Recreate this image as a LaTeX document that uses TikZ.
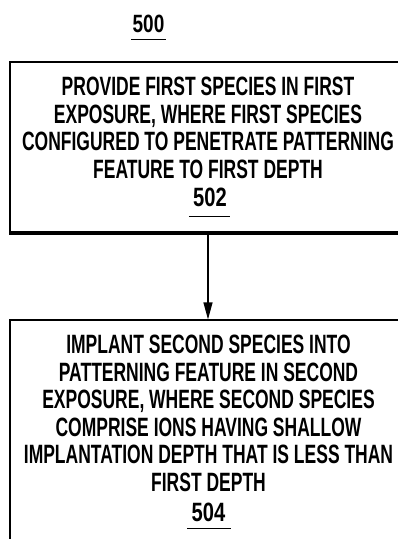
\documentclass[tikz,border=0pt]{standalone}
\usepackage{fontspec}
\newfontfamily\pfont{Liberation Sans}[FakeStretch=0.66]
\newfontfamily\nfont{Liberation Sans}[FakeStretch=0.76]
\usetikzlibrary{arrows.meta}
\begin{document}
\begin{tikzpicture}[x=1pt,y=-1pt,
  box/.style={draw, line width=1.2pt, minimum width=400pt, inner sep=0pt},
  bodytext/.style={font=\pfont\bfseries\fontsize{26.5}{27.5}\selectfont, align=center, inner sep=0pt, anchor=north},
  numtext/.style={font=\nfont\bfseries\fontsize{26.5}{27.5}\selectfont, inner sep=0pt, anchor=north},
  uline/.style={line width=1.2pt},
  flow/.style={line width=1.2pt, -{Triangle[length=17pt,width=9pt]}}]
\useasboundingbox (0,0) rectangle (398,539);
\clip (0,0) rectangle (398,539);
% title number
\node[numtext, font=\nfont\bfseries\fontsize{25}{27}\selectfont] (n500) at (148.5,15) {500};
\draw[uline] ([xshift=-1pt,yshift=-6pt]n500.south west) -- ([xshift=1.5pt,yshift=-6pt]n500.south east);
% boxes
\node[box, minimum height=170pt] (b1) at (210,147) {};
\draw[line width=4pt] (b1.south west) -- (b1.south east);
\node[box, minimum height=240pt] (b2) at (210,440) {};
% texts
\node[bodytext] (t1) at (208,77) {PROVIDE FIRST SPECIES IN FIRST\\EXPOSURE, WHERE FIRST SPECIES\\CONFIGURED TO PENETRATE PATTERNING\\FEATURE TO FIRST DEPTH};
\node[numtext] (n502) at (210,188) {502};
\draw[uline] ([xshift=-4pt,yshift=-9pt]n502.south west) -- ([xshift=3pt,yshift=-9pt]n502.south east);
\node[bodytext] (t2) at (208.5,335) {IMPLANT SECOND SPECIES INTO\\PATTERNING FEATURE IN SECOND\\EXPOSURE, WHERE SECOND SPECIES\\COMPRISE IONS HAVING SHALLOW\\IMPLANTATION DEPTH THAT IS LESS THAN\\FIRST DEPTH};
\node[numtext] (n504) at (208.5,503) {504};
\draw[uline] ([xshift=-4pt,yshift=-6pt]n504.south west) -- ([xshift=5pt,yshift=-6pt]n504.south east);
% connector
\draw[flow] (b1.south -| t1.north) -- (b2.north -| t1.north);
\end{tikzpicture}
\end{document}
